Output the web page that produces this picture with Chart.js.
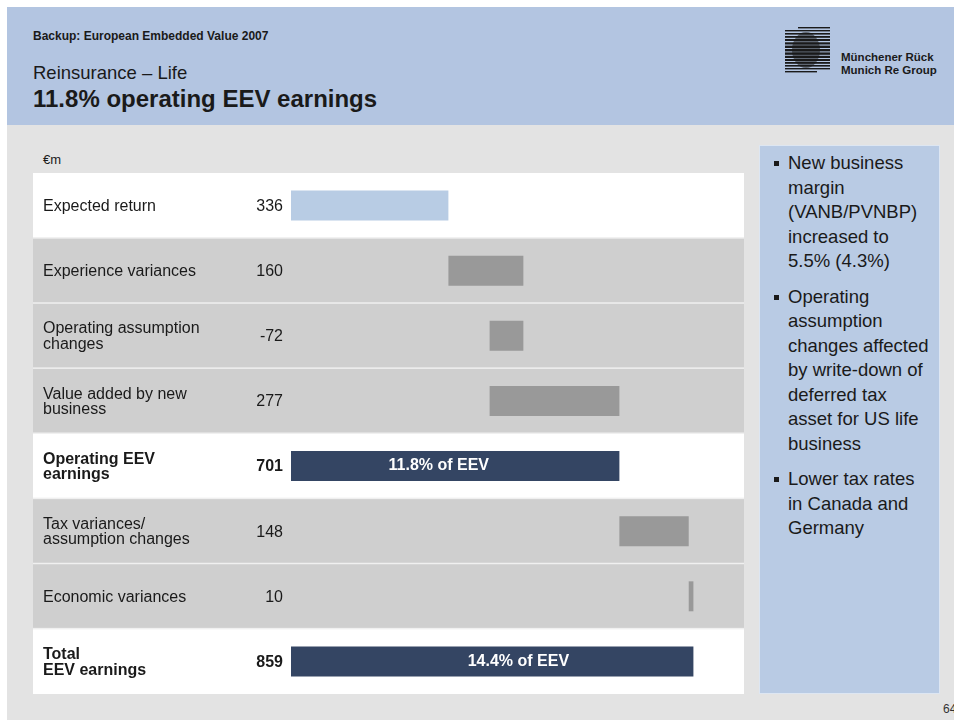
<!DOCTYPE html>
<html>
<head>
<meta charset="utf-8">
<script src="https://cdn.jsdelivr.net/npm/chart.js@4.4.1/dist/chart.umd.min.js"></script>
<style>
  html, body { margin:0; padding:0; }
  body { width:954px; height:720px; position:relative; overflow:hidden; background:#ffffff;
         font-family:"Liberation Sans", Arial, Helvetica, sans-serif; color:#1a1a1a; }
  #page { position:absolute; left:7px; top:7px; width:947px; height:713px; background:#e3e3e3; }
  #header { position:absolute; left:7px; top:7px; width:947px; height:118px; background:#b3c5e1; }
  .abs { position:absolute; white-space:nowrap; }
  #kicker { left:33px; top:29px; font-size:12px; font-weight:bold; }
  #sub { left:33px; top:62px; font-size:18.5px; }
  #title { left:33px; top:85px; font-size:24px; font-weight:bold; }
  #logoText { left:841px; top:51px; font-size:11.5px; font-weight:bold; line-height:12.5px; }
  #unit { left:43px; top:152px; font-size:13px; }
  #chartBox { position:absolute; left:33px; top:173px; width:711px; height:521px; }
  #panel { position:absolute; left:759px; top:145px; width:179px; height:547px; background:#b9cbe4;
           border:1px solid #dde6f2; }
  #panel ul { list-style:none; margin:0; padding:0; position:absolute; left:28px; top:5px; }
  #panel li { position:relative; font-size:18.5px; line-height:24.5px; margin-bottom:11px; white-space:nowrap; }
  #panel li::before { content:""; position:absolute; left:-14px; top:10px; width:5px; height:5px; background:#1a1a1a; }
  #pageNo { left:943px; top:702px; font-size:12px; color:#333; }
</style>
</head>
<body>
<div id="page"></div>
<div id="header"></div>
<div class="abs" id="kicker">Backup: European Embedded Value 2007</div>
<div class="abs" id="sub">Reinsurance – Life</div>
<div class="abs" id="title">11.8% operating EEV earnings</div>
<svg class="abs" style="left:784px;top:26px" width="48" height="48" viewBox="0 0 48 48">
  <g fill="#1a1a1a">
    <rect x="14" y="1" width="32" height="1.4"/>
    <rect x="1" y="4" width="45" height="1.4"/>
    <rect x="1" y="7" width="45" height="1.6"/>
    <rect x="1" y="10" width="45" height="1.8"/>
    <rect x="1" y="13" width="45" height="2"/>
    <rect x="1" y="16.3" width="45" height="2.2"/>
    <rect x="1" y="19.6" width="45" height="2.4"/>
    <rect x="1" y="23" width="45" height="2.4"/>
    <rect x="1" y="26.4" width="45" height="2.4"/>
    <rect x="1" y="29.8" width="45" height="2.2"/>
    <rect x="1" y="33" width="45" height="2"/>
    <rect x="1" y="36" width="45" height="1.8"/>
    <rect x="1" y="39" width="45" height="1.6"/>
    <rect x="1" y="42" width="45" height="1.4"/>
    <rect x="1" y="45" width="32" height="1.4"/>
    <ellipse cx="22" cy="24" rx="14" ry="18" opacity="0.55"/>
  </g>
</svg>
<div class="abs" id="logoText">Münchener Rück<br>Munich Re Group</div>
<div class="abs" id="unit">€m</div>
<div id="chartBox"><canvas id="c" width="711" height="521"></canvas></div>
<div id="panel">
  <ul>
    <li>New business<br>margin<br>(VANB/PVNBP)<br>increased to<br>5.5% (4.3%)</li>
    <li>Operating<br>assumption<br>changes affected<br>by write-down of<br>deferred tax<br>asset for US life<br>business</li>
    <li>Lower tax rates<br>in Canada and<br>Germany</li>
  </ul>
</div>
<div class="abs" id="pageNo">64</div>

<script>
// ---- data ----
const categories = [
  ["Expected return"],
  ["Experience variances"],
  ["Operating assumption", "changes"],
  ["Value added by new", "business"],
  ["Operating EEV", "earnings"],
  ["Tax variances/", "assumption changes"],
  ["Economic variances"],
  ["Total", "EEV earnings"]
];
const values = [336, 160, -72, 277, 701, 148, 10, 859];
const kinds = ["base", "delta", "delta", "delta", "total", "delta", "delta", "total"];
const barNotes = ["", "", "", "", "11.8% of EEV", "", "", "14.4% of EEV"];

// waterfall ranges built from the values
const ranges = [];
let running = 0;
values.forEach((v, i) => {
  if (kinds[i] === "total" || kinds[i] === "base") { ranges.push([0, v]); running = v; }
  else { const s = running, e = running + v; ranges.push([Math.min(s, e), Math.max(s, e)]); running = e; }
});

const barColors = kinds.map(k => k === "base" ? "#b8cce4" : (k === "total" ? "#344563" : "#999999"));
const rowColors = kinds.map(k => (k === "delta") ? "#cfcfcf" : "#ffffff");

const FONT = '"Liberation Sans", Arial, Helvetica, sans-serif';

const tablePlugin = {
  id: "tablePlugin",
  beforeDatasetsDraw(chart) {
    const { ctx, scales: { y } } = chart;
    const W = chart.width;
    const n = categories.length;
    const step = chart.chartArea.height / n;
    ctx.save();
    for (let i = 0; i < n; i++) {
      const c = y.getPixelForValue(i);
      ctx.fillStyle = rowColors[i];
      ctx.fillRect(0, c - step / 2, W, step);
    }
    ctx.fillStyle = "#f0f0f0";
    for (let i = 1; i < n; i++) {
      const b = (y.getPixelForValue(i - 1) + y.getPixelForValue(i)) / 2;
      ctx.fillRect(0, b - 1, W, 1.5);
    }
    ctx.restore();
  },
  afterDatasetsDraw(chart) {
    const { ctx, scales: { x, y } } = chart;
    ctx.save();
    ctx.textBaseline = "middle";
    categories.forEach((lines, i) => {
      const c = y.getPixelForValue(i);
      const bold = kinds[i] === "total";
      ctx.fillStyle = "#1a1a1a";
      ctx.font = (bold ? "bold " : "") + "16px " + FONT;
      const lh = 15.5;
      const top = c - (lines.length - 1) * lh / 2 + 1;
      ctx.textAlign = "left";
      lines.forEach((t, k) => ctx.fillText(t, 10, top + k * lh));
      ctx.textAlign = "right";
      ctx.fillText(String(values[i]), 250, c + 1);
      if (barNotes[i]) {
        const r = ranges[i];
        const cx = x.getPixelForValue(r[0] + (r[1] - r[0]) * (i === 4 ? 0.45 : 0.565));
        ctx.fillStyle = "#ffffff";
        ctx.font = "bold 16px " + FONT;
        ctx.textAlign = "center";
        ctx.fillText(barNotes[i], cx, c);
      }
    });
    ctx.restore();
  }
};

new Chart(document.getElementById("c"), {
  type: "bar",
  data: {
    labels: categories,
    datasets: [{
      data: ranges,
      backgroundColor: barColors,
      borderWidth: 0,
      barPercentage: 0.46,
      categoryPercentage: 1.0
    }]
  },
  options: {
    indexAxis: "y",
    responsive: false,
    animation: false,
    layout: { padding: { left: 258, right: 0, top: 0, bottom: 0 } },
    plugins: { legend: { display: false }, tooltip: { enabled: false } },
    scales: {
      x: { display: false, min: 0, max: 967 },
      y: { display: false, offset: true }
    }
  },
  plugins: [tablePlugin]
});
</script>
</body>
</html>
